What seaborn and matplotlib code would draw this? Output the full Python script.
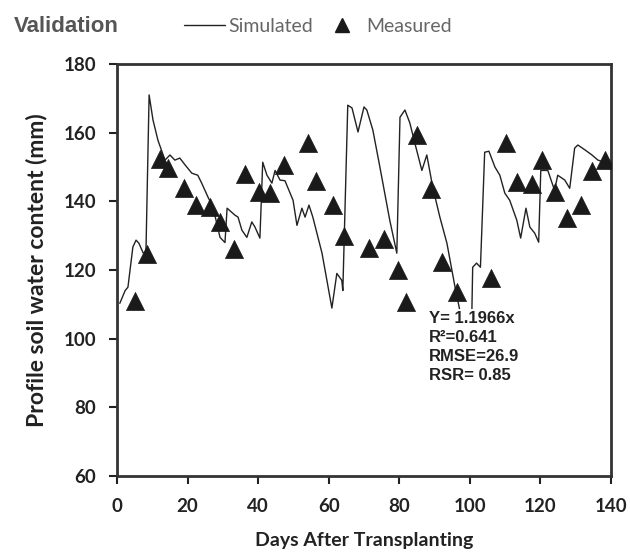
import matplotlib
matplotlib.use("Agg")
import matplotlib.pyplot as plt
from matplotlib import font_manager
import seaborn as sns
import pandas as pd
from matplotlib.lines import Line2D

sim_day = [0.8, 2.3, 3.1, 4.5, 5.4, 6.2, 7.4, 8.2, 9.1, 10.2, 11.6, 13.6, 15.0, 16.4, 17.8,
           19.3, 21.2, 22.9, 24.0, 25.8, 27.2, 29.2, 30.6, 31.2, 33.4, 34.3, 35.4, 36.8,
           38.2, 39.1, 40.5, 41.3, 42.5, 43.9, 44.8, 46.2, 47.6, 49.9, 51.0, 52.4, 53.3,
           54.4, 55.5, 58.1, 60.9, 62.3, 63.7, 64.0, 65.4, 66.6, 68.3, 70.0, 70.8, 72.5,
           74.5, 77.3, 79.3, 80.2, 81.6, 83.0, 84.4, 86.4, 87.8, 89.5, 91.5, 93.5, 95.8,
           98.0, 100.5, 100.8, 101.9, 103.0, 104.2, 105.4, 107.1, 108.5, 109.9, 111.3,
           113.3, 114.4, 115.9, 117.0, 118.4, 119.5, 120.1, 122.1, 124.0, 124.9, 126.9,
           128.3, 129.7, 130.6, 132.6, 134.6, 136.3, 138.2, 140.0]
sim_val = [110.3, 114, 115, 126.7, 128.7, 127.8, 125, 125, 171, 163.7, 157.8, 152, 153.5,
           152, 152.6, 150.6, 148.2, 147.6, 145.3, 141.2, 138.3, 129.5, 128, 138, 136,
           135.4, 131.6, 129.5, 134, 132.5, 129.3, 151.4, 147.6, 145.3, 149, 146.2, 146,
           140.3, 133, 138, 135.4, 138.9, 135.4, 124.9, 108.9, 119, 117, 114, 168, 167.2,
           160.2, 167.5, 166.6, 160.8, 150, 134.5, 124.9, 164.5, 166.6, 162.8, 157, 149,
           153.5, 144, 135.4, 127.8, 115, 104, 104, 120.8, 122, 120.8, 154.3, 154.6, 150,
           147.6, 142.4, 140.3, 134.5, 129.3, 138, 132.5, 130.7, 128.1, 149, 149, 143.2,
           147.6, 146.2, 143.8, 155.5, 156.4, 155, 153.5, 152, 151.4, 151]

meas_day = [5, 8.5, 12.2, 14.4, 19, 22.4, 26.3, 29.2, 33.1, 36.3, 40.2, 43.3, 47.3, 54.1,
            56.4, 61.2, 64.3, 71.4, 75.6, 79.6, 81.9, 85, 89, 92, 96.3, 106, 110.2, 113.3,
            117.6, 120.4, 124, 127.5, 131.4, 134.6, 138.2]
meas_val = [111, 124.6, 152.3, 149.7, 143.8, 138.9, 138.3, 133.9, 126.1, 148, 142.7, 142.4,
            150.6, 157, 145.9, 138.9, 129.9, 126.4, 129, 120, 110.6, 159.3, 143.6, 122.3,
            113.5, 117.6, 157, 145.6, 145, 152, 142.7, 135.1, 138.9, 148.8, 152]

x_ticks = [0, 20, 40, 60, 80, 100, 120, 140]
y_ticks = [60, 80, 100, 120, 140, 160, 180]
stats_lines = ["Y= 1.1966x", "R\u00b2=0.641", "RMSE=26.9", "RSR= 0.85"]

sns.set_style("white")
plt.rcParams['font.family'] = ['Liberation Sans', 'DejaVu Sans']

installed = {f.name for f in font_manager.fontManager.ttflist}
if "Liberation Sans Narrow" in installed:
    stat_font, stat_size = "Liberation Sans Narrow", 14.5
else:
    stat_font, stat_size = "Liberation Sans", 12

fig = plt.figure(figsize=(6.3, 5.55), dpi=100)
ax = fig.add_axes([117/630, 1-476/555, (611-117)/630, (476-64)/555])

sim = pd.DataFrame({"day": sim_day, "val": sim_val})
meas = pd.DataFrame({"day": meas_day, "val": meas_val})
sns.lineplot(data=sim, x="day", y="val", ax=ax, color="#222222", linewidth=1.0, sort=False,
             zorder=2)
sns.scatterplot(data=meas, x="day", y="val", ax=ax, marker="^", color="#1a1a1a", s=170,
                edgecolor="#1a1a1a", linewidth=0.5, zorder=3)

ax.set_xlim(0, 140)
ax.set_ylim(60, 180)
ax.set_xticks(x_ticks)
ax.set_yticks(y_ticks)
ax.set_xticklabels([str(t) for t in x_ticks], fontfamily="Lato", fontweight="bold",
                   fontsize=13.5, color="#222222")
ax.set_yticklabels([str(t) for t in y_ticks], fontfamily="Lato", fontweight="bold",
                   fontsize=13.5, color="#222222")
ax.tick_params(axis="both", direction="out", length=6, width=1.5, color="#222222",
               bottom=True, left=True)
ax.tick_params(axis="x", pad=10)
ax.tick_params(axis="y", pad=9)
for sp in ax.spines.values():
    sp.set_visible(True)
    sp.set_linewidth(2)
    sp.set_color("#333333")

ax.set_xlabel("Days After Transplanting", fontfamily="Lato", fontweight="bold", fontsize=14,
              color="#222222", labelpad=12)
ax.set_ylabel("Profile soil water content (mm)", fontfamily="Lato", fontweight="bold",
              fontsize=16.5, color="#222222", labelpad=12)

ax.text(88.5, 108.0, "\n".join(stats_lines), fontsize=stat_size, fontfamily=stat_font,
        fontweight="bold", color="#222222", va="top", ha="left", linespacing=1.32,
        bbox=dict(facecolor="white", edgecolor="none", pad=1.5), zorder=4)

fig.text(14/630, 1-27/555, "Validation", fontsize=16, fontweight="bold", color="#555555",
         va="center", ha="left")
handles = [Line2D([0], [0], color="#222222", linewidth=1.0),
           Line2D([0], [0], marker="^", color="#1a1a1a", linestyle="none", markersize=10)]
leg = fig.legend(handles, ["Simulated", "Measured"], ncol=2, frameon=False,
                 loc="center left", bbox_to_anchor=(180/630, 1-26/555),
                 prop={"family": "Lato", "size": 14}, handlelength=2.1, handletextpad=0.2,
                 columnspacing=0.4, borderaxespad=0, borderpad=0.2)
for t in leg.get_texts():
    t.set_color("#666666")

fig.savefig("out.png", dpi=100)
